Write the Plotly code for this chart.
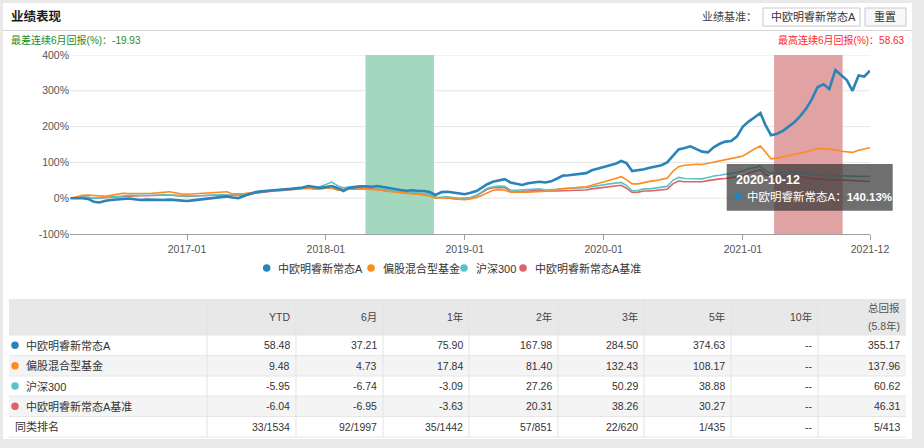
import plotly.graph_objects as go

# ---------------- data ----------------
months = [(y, m) for y in range(2016, 2022) for m in range(1, 13) if (y, m) >= (2016, 3)]
dates = [f"{y}-{m:02d}-{d:02d}" for (y, m) in months for d in (1, 16)]
dates = dates[:dates.index("2021-12-01") + 1]

series_names = ["中欧明睿新常态A", "偏股混合型基金", "沪深300", "中欧明睿新常态A基准"]
series_colors = ["#2a84b8", "#ff8b1f", "#5cc2c4", "#e06264"]

fund_a = [
    0, 1, 0, -2, -10, -12, -7, -5, -4, -2, -1, -3, -5, -4, -5, -4, -5, -4, -5, -7,
    -8, -6, -4, -2, 0, 2, 3, 5, 2, 0, 7, 12, 17, 19, 21, 22, 24, 25, 26, 27, 30, 34, 31, 29,
    31, 34, 28, 20, 28, 31, 33, 33, 32, 34, 31, 27, 24, 23, 21, 22, 20, 20, 17, 9, 17, 18, 16, 14,
    11, 15, 20, 30, 39, 46, 50, 53, 44, 40, 37, 42, 45, 46, 44, 47, 55, 63, 64, 66, 68, 70, 78, 82,
    86, 92, 96, 104, 98, 76, 78, 81, 85, 88, 92, 100, 118, 136, 140, 145, 137, 130, 128, 142, 152, 158, 160, 172,
    200, 214, 226, 238, 205, 176, 180, 188, 200, 212, 230, 250, 276, 310, 318, 305, 358, 343, 330, 300, 343, 340, 356,
]
category_avg = [
    0, 4, 8, 9, 7, 6, 5, 8, 12, 14, 13, 13, 12, 13, 14, 15, 16, 18, 15, 12,
    11, 12, 12, 14, 14, 16, 17, 18, 12, 12, 13, 15, 17, 19, 21, 22, 23, 24, 25, 26, 27, 29, 26, 25,
    28, 28, 22, 22, 25, 26, 25, 26, 24, 25, 21, 19, 17, 15, 13, 12, 11, 9, 6, 0, 1, 2, -2, -3,
    -4, -2, 2, 8, 15, 22, 24, 22, 17, 16, 17, 17, 18, 19, 20, 20, 25, 27, 28, 29, 31, 32, 36, 40,
    45, 50, 55, 60, 52, 40, 40, 44, 47, 49, 52, 56, 75, 88, 92, 94, 95, 94, 97, 100, 103, 106, 110, 114,
    118, 128, 138, 146, 128, 110, 112, 115, 118, 122, 126, 130, 134, 138, 138, 137, 135, 131, 130, 128, 134, 137, 141,
]
hs300 = [
    0, 2, 4, 3, 0, 1, 2, 3, 5, 6, 8, 8, 7, 8, 8, 9, 10, 10, 8, 6,
    5, 6, 7, 8, 9, 10, 10, 9, 8, 9, 11, 14, 17, 19, 21, 22, 23, 24, 25, 27, 30, 32, 30, 32,
    38, 45, 35, 29, 31, 33, 33, 33, 30, 27, 25, 22, 20, 20, 18, 16, 14, 14, 11, 2, 3, 4, 2, 0,
    0, 2, 8, 18, 28, 32, 34, 33, 23, 22, 23, 24, 25, 26, 23, 23, 25, 27, 27, 27, 28, 29, 32, 35,
    38, 40, 42, 44, 36, 20, 22, 26, 26, 28, 30, 33, 50, 58, 55, 55, 53, 54, 58, 62, 64, 66, 68, 72,
    76, 82, 86, 90, 76, 70, 72, 72, 73, 73, 72, 70, 66, 64, 64, 62, 63, 62, 62, 60, 61, 61, 61,
]
benchmark = [
    0, 2, 3, 2, 0, 1, 2, 3, 5, 6, 7, 7, 7, 7, 8, 8, 9, 9, 8, 6,
    5, 6, 7, 8, 8, 9, 9, 8, 7, 8, 10, 12, 15, 17, 19, 20, 21, 22, 23, 24, 27, 28, 26, 27,
    30, 34, 28, 24, 26, 28, 28, 28, 26, 24, 22, 19, 17, 17, 15, 14, 12, 11, 9, 2, 2, 3, 1, -1,
    -1, 1, 7, 16, 25, 29, 30, 29, 20, 19, 19, 20, 21, 22, 20, 19, 20, 21, 21, 22, 22, 23, 26, 28,
    30, 32, 34, 36, 28, 16, 17, 20, 20, 22, 23, 25, 40, 48, 46, 46, 45, 46, 49, 52, 54, 55, 57, 60,
    62, 70, 75, 80, 66, 60, 61, 61, 61, 61, 60, 58, 55, 53, 53, 51, 52, 51, 50, 48, 48, 47, 46.5,
]

x_tick_vals = ["2017-01-01", "2018-01-01", "2019-01-01", "2020-01-01", "2021-01-01", "2021-12-01"]
x_tick_text = ["2017-01", "2018-01", "2019-01", "2020-01", "2021-01", "2021-12"]
y_tick_vals = [-100, 0, 100, 200, 300, 400]
y_tick_text = ["-100%", "0%", "100%", "200%", "300%", "400%"]

worst_period = ["2018-04-15", "2018-10-12"]
best_period = ["2021-03-24", "2021-09-20"]
worst_return = -19.93
best_return = 58.63

tooltip_date = "2020-10-12"
tooltip_value = 140.13

table_periods = ["YTD", "6月", "1年", "2年", "3年", "5年", "10年", "总回报<br>(5.8年)"]
tbl_fund = [58.48, 37.21, 75.90, 167.98, 284.50, 374.63, None, 355.17]
tbl_category = [9.48, 4.73, 17.84, 81.40, 132.43, 108.17, None, 137.96]
tbl_hs300 = [-5.95, -6.74, -3.09, 27.26, 50.29, 38.88, None, 60.62]
tbl_bench = [-6.04, -6.95, -3.63, 20.31, 38.26, 30.27, None, 46.31]
tbl_rank = ["33/1534", "92/1997", "35/1442", "57/851", "22/620", "1/435", "--", "5/413"]

# ---------------- layout helpers ----------------
W, H = 924, 448
L, R, T, B = 70, 870, 55, 234
FONT = "Liberation Sans, Arial, Noto Sans CJK SC, sans-serif"


def px(x):
    return (x - L) / (R - L)


def py(y):
    return (B - y) / (B - T)


shapes = []
annotations = []


def rect(x0, y0, x1, y1, fill, line=None, layer="below", lw=1):
    shapes.append(dict(type="rect", xref="paper", yref="paper",
                       x0=px(x0), x1=px(x1), y0=py(y1), y1=py(y0),
                       fillcolor=fill, layer=layer,
                       line=dict(color=line or "rgba(0,0,0,0)", width=lw if line else 0)))


def hline(x0, x1, y, color, layer="below"):
    shapes.append(dict(type="line", xref="paper", yref="paper", x0=px(x0), x1=px(x1),
                       y0=py(y), y1=py(y), layer=layer, line=dict(color=color, width=1)))


def vline(x, y0, y1, color, layer="below"):
    shapes.append(dict(type="line", xref="paper", yref="paper", x0=px(x), x1=px(x),
                       y0=py(y0), y1=py(y1), layer=layer, line=dict(color=color, width=1)))


def dot(x, y, color, d=7, layer="above"):
    shapes.append(dict(type="circle", xref="paper", yref="paper",
                       x0=px(x - d / 2), x1=px(x + d / 2), y0=py(y + d / 2), y1=py(y - d / 2),
                       fillcolor=color, layer=layer, line=dict(width=0)))


def text(x, y, s, size=11, color="#333", xanchor="left", yanchor="middle"):
    annotations.append(dict(xref="paper", yref="paper", x=px(x), y=py(y), text=s,
                            showarrow=False, xanchor=xanchor, yanchor=yanchor,
                            font=dict(size=size, color=color, family=FONT)))


# ---------------- figure ----------------
fig = go.Figure()
order = [3, 2, 1, 0]
values = [fund_a, category_avg, hs300, benchmark]
widths = [2.6, 1.6, 1.6, 1.6]
for i in order:
    fig.add_trace(go.Scatter(x=dates, y=values[i], mode="lines", name=series_names[i],
                             line=dict(color=series_colors[i], width=widths[i])))

# card background
rect(3, 3, 912, 439, "#ffffff")
hline(3, 912, 30.5, "#d4d4d4")

# grid lines on the y scale
for v in y_tick_vals[1:]:
    shapes.append(dict(type="line", xref="paper", yref="y", x0=0, x1=1, y0=v, y1=v,
                       layer="below", line=dict(color="#e6e6e6", width=1)))

# shaded periods
shapes.append(dict(type="rect", xref="x", yref="paper", x0=worst_period[0], x1=worst_period[1],
                   y0=0, y1=1, fillcolor="#a3d8bf", layer="below", line=dict(width=0)))
shapes.append(dict(type="rect", xref="x", yref="paper", x0=best_period[0], x1=best_period[1],
                   y0=0, y1=1, fillcolor="#e0a2a2", layer="below", line=dict(width=0)))

# header
text(9, 16.5, "<b>业绩表现</b>", size=12.5, color="#1a1a1a")
text(759, 17, "业绩基准：", size=11, color="#444", xanchor="right")
rect(763, 8, 860, 26, "#ffffff", line="#c8c8c8")
text(769, 17, "中欧明睿新常态A", size=11, color="#333")
rect(865, 8, 906, 26, "#f8f8f8", line="#c8c8c8")
text(885.5, 17, "重置", size=11, color="#333", xanchor="center")
text(9, 40.5, f"最差连续6月回报(%)：{worst_return:.2f}", size=10, color="#238c23")
text(907, 40.5, f"最高连续6月回报(%)：{best_return:.2f}", size=10, color="#ff2626", xanchor="right")

# legend
legend_dots = [266.7, 371, 464, 523]
for i, xd in enumerate(legend_dots):
    dot(xd, 268, series_colors[i], d=7.5)
    text(xd + 9.5, 268, series_names[i], size=11, color="#333")

# tooltip
rect(726.7, 164, 892.7, 210.7, "rgba(55,55,55,0.72)", layer="above")
text(733.5, 179.5, f"<b>{tooltip_date}</b>", size=12.5, color="#ffffff")
dot(738, 196, series_colors[0], d=7.5)
text(745, 196, f"{series_names[0]}：<b>{tooltip_value:.2f}%</b>", size=11.5, color="#ffffff")

# table
col_edges = [9, 207, 296, 383, 469, 558, 644, 731, 818, 906]
row_edges = [299, 335, 355.5, 376, 396, 416.5, 437]
rect(9, 299, 906, 335, "#e8e8e8")
rect(9, 355.5, 906, 376, "#f4f4f4")
rect(9, 396, 906, 416.5, "#f4f4f4")
for ye in row_edges[1:]:
    hline(9, 906, ye, "#e6e6e6")
for xe in col_edges[1:-1]:
    vline(xe, 299, 437, "#e3e3e3")

for j, lab in enumerate(table_periods):
    xr = col_edges[j + 2] - 4
    if "<br>" in lab:
        a, b = lab.split("<br>")
        text(xr, 308, a, size=10.5, color="#555", xanchor="right")
        text(xr, 325.5, b, size=10.5, color="#555", xanchor="right")
    else:
        text(xr, 317, lab, size=10.5, color="#444", xanchor="right")

rows = [tbl_fund, tbl_category, tbl_hs300, tbl_bench]
for r, vals in enumerate(rows):
    yc = (row_edges[r + 1] + row_edges[r + 2]) / 2
    dot(15, yc, series_colors[r], d=7.5)
    text(23.5, yc, series_names[r], size=11, color="#333")
    for j, v in enumerate(vals):
        s = "--" if v is None else f"{v:.2f}"
        text(col_edges[j + 2] - 4, yc, s, size=10.5, color="#333", xanchor="right")
yc = (row_edges[5] + row_edges[6]) / 2
text(12.5, yc, "同类排名", size=11, color="#333")
for j, s in enumerate(tbl_rank):
    text(col_edges[j + 2] - 4, yc, s, size=10.5, color="#333", xanchor="right")

fig.update_layout(
    width=W, height=H,
    margin=dict(l=L, r=W - R, t=T, b=H - B, pad=0),
    paper_bgcolor="#e9e9e9", plot_bgcolor="rgba(0,0,0,0)",
    showlegend=False, hovermode=False,
    font=dict(family=FONT, size=11, color="#333"),
    shapes=shapes, annotations=annotations,
    xaxis=dict(type="date", range=["2016-02-28 12:00", "2021-12-01"],
               tickvals=x_tick_vals, ticktext=x_tick_text,
               showgrid=False, zeroline=False, showline=True, linecolor="#a0a0a0",
               ticks="outside", ticklen=5, tickcolor="#a0a0a0",
               tickfont=dict(size=10.5, color="#555")),
    yaxis=dict(range=[-100, 400], tickvals=y_tick_vals, ticktext=y_tick_text,
               showgrid=False, zeroline=False,
               showline=False, ticks="", tickfont=dict(size=10.5, color="#555")),
)

fig.write_html("out.html", config={"displayModeBar": False},
               post_script="document.body.style.margin='0';document.body.style.overflow='hidden';")
